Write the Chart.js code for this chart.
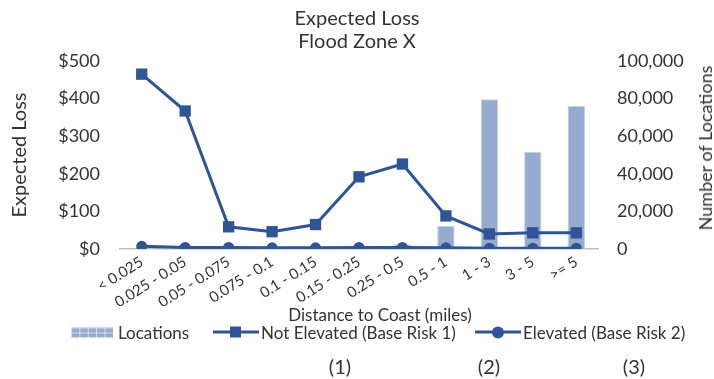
<!DOCTYPE html>
<html>
<head>
<meta charset="utf-8">
<title>Expected Loss - Flood Zone X</title>
<script src="https://cdn.jsdelivr.net/npm/chart.js@4.4.1/dist/chart.umd.min.js"></script>
<style>
    body { margin: 0; background: #fff; font-family: Lato, sans-serif; color: #333; }
    #wrap { position: relative; width: 714px; height: 379px; overflow: hidden; }
    #lossChart { position: absolute; left: 0; top: 0; }
    .x-title { position: absolute; left: 380px; top: 314px; transform: translate(-50%, -50%); font-size: 17px; white-space: nowrap; }
    .y1-title { position: absolute; left: 705px; top: 148px; transform: translate(-50%, -50%) rotate(-90deg); font-size: 18px; white-space: nowrap; }
    .legend-item { position: absolute; top: 332px; transform: translateY(-50%); display: flex; align-items: center; font-size: 17px; white-space: nowrap; }
    .swatch-bar { width: 42px; height: 10px; margin-right: 5px; background-color: #95abcf;
        background-image: linear-gradient(to right, rgba(255,255,255,.6) 1px, transparent 1px),
                          linear-gradient(to bottom, rgba(255,255,255,.6) 1px, transparent 1px);
        background-size: 8.4px 5px; }
    .swatch-line { position: relative; width: 46px; height: 12px; margin-right: 2px; }
    .swatch-line:before { content: ''; position: absolute; left: 0; right: 0; top: 4.5px; height: 3px; background: #2f5597; }
    .swatch-line span { position: absolute; left: 17px; top: 0; width: 11px; height: 11px; background: #2f5597; }
    .swatch-line.circle span { left: 17px; top: 0; width: 12px; height: 12px; border-radius: 50%; }
    .note { position: absolute; top: 366px; transform: translate(-50%, -50%); font-size: 20px; }
</style>
</head>
<body>
<div id="wrap">
    <canvas id="lossChart" width="714" height="379"></canvas>
    <div class="x-title">Distance to Coast (miles)</div>
    <div class="y1-title">Number of Locations</div>
    <div id="legend"></div>
    <div class="note" style="left:340px">(1)</div>
    <div class="note" style="left:489px">(2)</div>
    <div class="note" style="left:634px">(3)</div>
</div>
<script>
// data
var distanceBands = ['< 0.025', '0.025 - 0.05', '0.05 - 0.075', '0.075 - 0.1', '0.1 - 0.15',
    '0.15 - 0.25', '0.25 - 0.5', '0.5 - 1', '1 - 3', '3 - 5', '>= 5'];
var locations = [300, 400, 500, 500, 600, 800, 2500, 12400, 79700, 51700, 76100];
var notElevated = [465, 367, 59, 46, 65, 192, 226, 88, 40, 43, 43];
var elevated = [7, 4, 4, 3, 3, 4, 4, 3, 2, 2, 2];
var lossTicks = [0, 100, 200, 300, 400, 500];
var locationTicks = [0, 20000, 40000, 60000, 80000, 100000];
var seriesNames = ['Locations', 'Not Elevated (Base Risk 1)', 'Elevated (Base Risk 2)'];

var lineBlue = '#2f5597';
var barBlue = '#95abcf';

Chart.defaults.font.family = 'Lato, sans-serif';
Chart.defaults.color = '#333';

function setTicks(values) {
    return function (scale) {
        scale.ticks = values.map(function (v) { return { value: v }; });
    };
}

//-------------
//- COMBO CHART -
//-------------
var ctx = document.getElementById('lossChart').getContext('2d');
var lossChart = new Chart(ctx, {
    data: {
        labels: distanceBands,
        datasets: [
            {
                type: 'line',
                label: seriesNames[1],
                data: notElevated,
                yAxisID: 'y',
                borderColor: lineBlue,
                backgroundColor: lineBlue,
                borderWidth: 3,
                pointStyle: 'rect',
                pointRadius: 8,
                pointBorderWidth: 0,
                tension: 0,
                order: 1
            },
            {
                type: 'line',
                label: seriesNames[2],
                data: elevated,
                yAxisID: 'y',
                borderColor: lineBlue,
                backgroundColor: lineBlue,
                borderWidth: 3,
                pointStyle: 'circle',
                pointRadius: 5.5,
                pointBorderWidth: 0,
                tension: 0,
                order: 2
            },
            {
                type: 'bar',
                label: seriesNames[0],
                data: locations,
                yAxisID: 'y1',
                backgroundColor: barBlue,
                borderColor: '#c3d0e5',
                borderWidth: 1,
                categoryPercentage: 1,
                barPercentage: 0.4,
                order: 3
            }
        ]
    },
    options: {
        responsive: false,
        animation: false,
        devicePixelRatio: 1,
        layout: { padding: { left: 0, right: 0, top: 0, bottom: 57 } },
        plugins: {
            legend: { display: false },
            tooltip: { enabled: false },
            title: {
                display: true,
                text: ['Expected Loss', 'Flood Zone X'],
                font: { size: 20, weight: 'normal', lineHeight: 1.15 },
                color: '#333',
                padding: { top: 7.5, bottom: 7.5 }
            }
        },
        scales: {
            x: {
                grid: { display: false, drawTicks: false },
                border: { display: true, color: '#bfbfbf', width: 1.5 },
                ticks: { autoSkip: false, minRotation: 32, maxRotation: 32, padding: 4, font: { size: 15 } },
                afterFit: function (scale) { scale.height = 73; }
            },
            y: {
                position: 'left',
                min: 0,
                max: 500,
                grid: { display: false, drawTicks: false },
                border: { display: false },
                ticks: {
                    padding: 20,
                    font: { size: 18 },
                    callback: function (value) { return '$' + value; }
                },
                title: { display: true, text: 'Expected Loss', font: { size: 20 }, padding: { top: 8, bottom: 0 } },
                afterBuildTicks: setTicks(lossTicks),
                afterFit: function (scale) { scale.width = 120; }
            },
            y1: {
                position: 'right',
                min: 0,
                max: 100000,
                grid: { display: false, drawTicks: false },
                border: { display: false },
                ticks: {
                    padding: 19,
                    font: { size: 18 },
                    callback: function (value) { return value.toLocaleString('en-US'); }
                },
                afterBuildTicks: setTicks(locationTicks),
                afterFit: function (scale) { scale.width = 116; }
            }
        }
    }
});

// legend, built from the dataset labels
var legendLeft = [71, 213, 475];
var swatches = ['<div class="swatch-bar"></div>',
    '<div class="swatch-line"><span></span></div>',
    '<div class="swatch-line circle"><span></span></div>'];
var legendHtml = '';
for (var i in seriesNames) {
    legendHtml += '<div class="legend-item" style="left:' + legendLeft[i] + 'px">' +
        swatches[i] + '<span>' + seriesNames[i] + '</span></div>';
}
document.getElementById('legend').innerHTML = legendHtml;
</script>
</body>
</html>
